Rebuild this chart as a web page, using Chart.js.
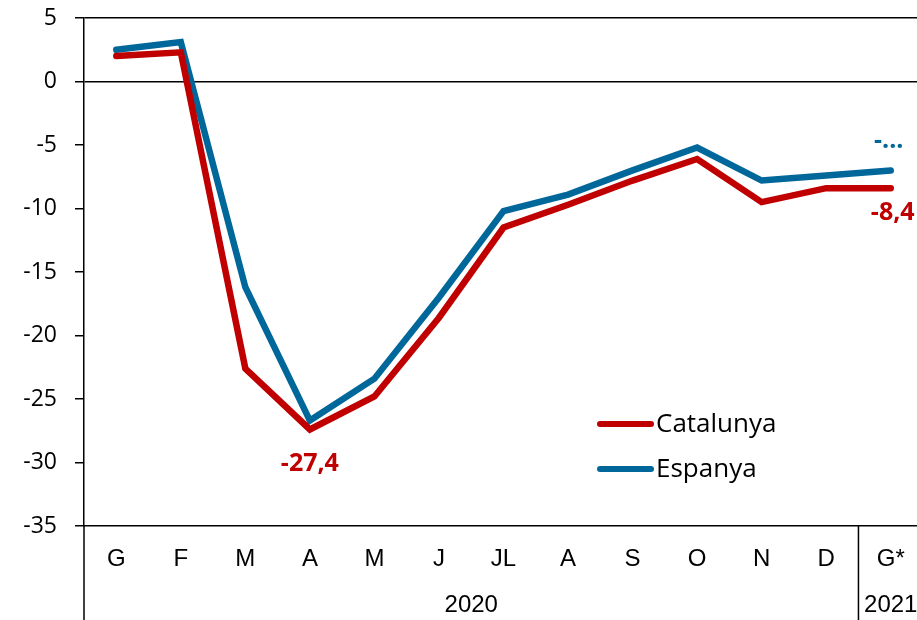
<!DOCTYPE html>
<html>
<head>
<meta charset="utf-8">
<script src="https://cdn.jsdelivr.net/npm/chart.js@4/dist/chart.umd.min.js"></script>
<style>
  html, body { margin: 0; padding: 0; background: #fff; overflow: hidden; }
  #wrap { width: 924px; height: 620px; }
</style>
</head>
<body>
<div id="wrap"><canvas id="chart" width="924" height="620"></canvas></div>
<script>
// Data
const months = ["G", "F", "M", "A", "M", "J", "JL", "A", "S", "O", "N", "D", "G*"];
const years = [{ label: "2020", from: 0, to: 11 }, { label: "2021", from: 12, to: 12 }];
const catalunya = [2.0, 2.3, -22.6, -27.4, -24.8, -18.6, -11.5, -9.7, -7.8, -6.1, -9.5, -8.4, -8.4];
const espanya = [2.5, 3.1, -16.2, -26.7, -23.4, -17.0, -10.2, -8.9, -7.0, -5.2, -7.8, -7.4, -7.0];
const yTicks = [5, 0, -5, -10, -15, -20, -25, -30, -35];

const red = "#C00000";
const blue = "#00679A";
const sans = "'Open Sans', 'Noto Sans', sans-serif";
const arial = "'Liberation Sans', Arial, sans-serif";

// value labels: dataset index, point index, text, vertical offset
const valueLabels = [
    { ds: 0, i: 3, text: "-27,4", dy: 34, color: red },
    { ds: 0, i: 12, text: "-8,4", dy: 25, color: red, dx: 2 },
    { ds: 1, i: 12, text: "-...", dy: -30, color: blue, dx: -2 }
];

const extras = {
    id: "extras",
    afterDraw(chart) {
        const ctx = chart.ctx;
        const x = chart.scales.x;
        const area = chart.chartArea;
        const H = chart.height;
        ctx.save();

        // left axis and year separators down to the bottom
        ctx.strokeStyle = "#000";
        ctx.lineWidth = 1.5;
        ctx.beginPath();
        ctx.moveTo(area.left, area.bottom);
        ctx.lineTo(area.left, H);
        years.forEach((y, k) => {
            if (k === 0) return;
            const sx = (x.getPixelForValue(y.from - 1) + x.getPixelForValue(y.from)) / 2;
            ctx.moveTo(sx, area.bottom);
            ctx.lineTo(sx, H);
        });
        ctx.stroke();

        // year labels
        ctx.fillStyle = "#000";
        ctx.font = "24px " + arial;
        ctx.textAlign = "center";
        ctx.textBaseline = "middle";
        years.forEach(y => {
            const cx = (x.getPixelForValue(y.from) + x.getPixelForValue(y.to)) / 2;
            ctx.fillText(y.label, cx, 605);
        });

        // value labels
        ctx.font = "bold 25px " + sans;
        valueLabels.forEach(l => {
            const p = chart.getDatasetMeta(l.ds).data[l.i];
            ctx.fillStyle = l.color;
            ctx.fillText(l.text, p.x + (l.dx || 0), p.y + l.dy);
        });

        // legend
        const items = [{ t: "Catalunya", c: red, y: 424 }, { t: "Espanya", c: blue, y: 469 }];
        ctx.lineCap = "round";
        ctx.lineWidth = 6;
        ctx.font = "26px " + sans;
        ctx.textAlign = "left";
        items.forEach(it => {
            ctx.strokeStyle = it.c;
            ctx.beginPath();
            ctx.moveTo(600, it.y);
            ctx.lineTo(651, it.y);
            ctx.stroke();
            ctx.fillStyle = "#000";
            ctx.fillText(it.t, 656, it.y + 1);
        });
        ctx.restore();
    }
};

new Chart(document.getElementById("chart"), {
    type: "line",
    data: {
        labels: months,
        datasets: [
            { label: "Catalunya", data: catalunya, borderColor: red },
            { label: "Espanya", data: espanya, borderColor: blue }
        ]
    },
    options: {
        responsive: false,
        animation: false,
        layout: { padding: { top: 18, right: 1, left: 0, bottom: 0 } },
        elements: {
            line: { borderWidth: 6.5, borderCapStyle: "round", borderJoinStyle: "miter", tension: 0 },
            point: { radius: 0 }
        },
        plugins: { legend: { display: false }, tooltip: { enabled: false } },
        scales: {
            x: {
                offset: true,
                grid: { display: false },
                border: { color: "#000", width: 1.5 },
                ticks: { color: "#000", font: { family: arial, size: 24 }, padding: 11, maxRotation: 0, autoSkip: false },
                afterFit(s) { s.height = 94; s.paddingLeft = 0; s.paddingRight = 0; }
            },
            y: {
                min: -35,
                max: 5,
                afterBuildTicks(s) { s.ticks = yTicks.map(v => ({ value: v })); },
                grid: {
                    color: c => (c.tick && (c.tick.value === 0 || c.tick.value === 5)) ? "#000" : "rgba(0,0,0,0)",
                    lineWidth: 1.5,
                    tickColor: "#000",
                    tickLength: 9
                },
                border: { color: "#000", width: 1.5 },
                ticks: { color: "#000", font: { family: sans, size: 23 }, padding: 18 },
                afterFit(s) { s.width = 84; s.paddingTop = 0; s.paddingBottom = 0; }
            }
        }
    },
    plugins: [extras]
});
</script>
</body>
</html>
